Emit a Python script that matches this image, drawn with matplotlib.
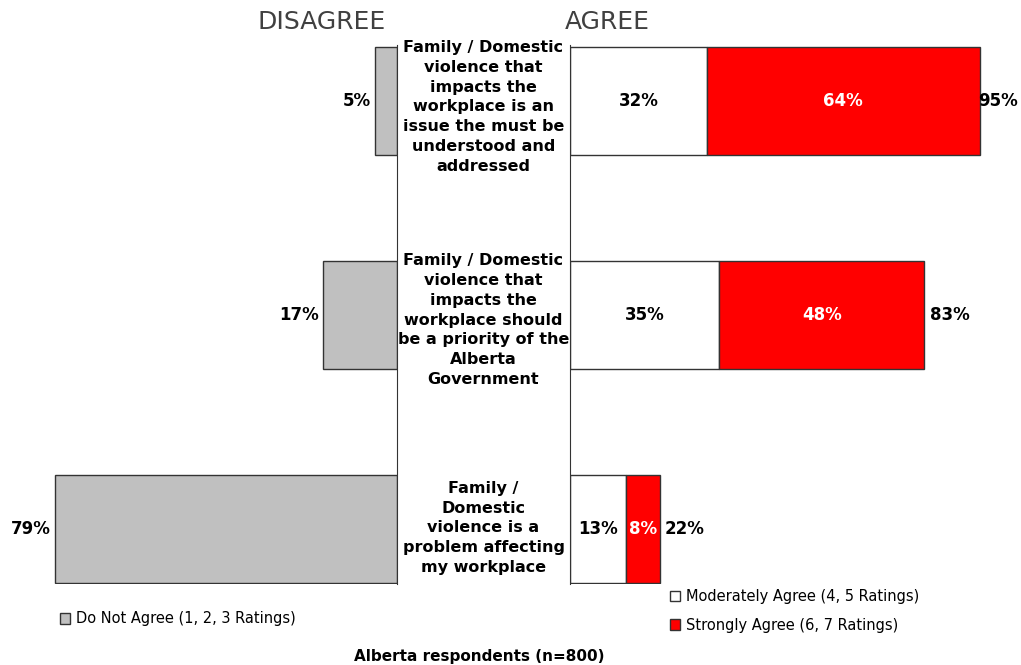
import matplotlib.pyplot as plt
from matplotlib.patches import Patch

statements = [
    "Family / Domestic\nviolence that\nimpacts the\nworkplace is an\nissue the must be\nunderstood and\naddressed",
    "Family / Domestic\nviolence that\nimpacts the\nworkplace should\nbe a priority of the\nAlberta\nGovernment",
    "Family /\nDomestic\nviolence is a\nproblem affecting\nmy workplace",
]
do_not_agree = [5, 17, 79]
moderately_agree = [32, 35, 13]
strongly_agree = [64, 48, 8]
total_agree = [95, 83, 22]

GRAY = "#C0C0C0"
RED = "#FF0000"
EDGE = "#333333"

W, H = 1021, 665
fig = plt.figure(figsize=(W / 100, H / 100), dpi=100)

top_px, bot_px = 45, 584
ax_l = fig.add_axes([20 / W, 1 - bot_px / H, (397 - 20) / W, (bot_px - top_px) / H])
ax_r = fig.add_axes([570 / W, 1 - bot_px / H, (1000 - 570) / W, (bot_px - top_px) / H])

ypos = list(range(len(statements)))
bh = 0.505
ylim = (2.257, -0.262)

# left side: disagree
ax_l.barh(ypos, do_not_agree, height=bh, color=GRAY, edgecolor=EDGE, linewidth=1)
ax_l.set_xlim(87, 0)
ax_l.set_ylim(*ylim)
for y, v in zip(ypos, do_not_agree):
    ax_l.text(v + 1, y, f"{v}%", ha="right", va="center", fontsize=12,
              fontweight="bold", color="black")

# right side: agree
ax_r.barh(ypos, moderately_agree, height=bh, color="white", edgecolor=EDGE, linewidth=1)
ax_r.barh(ypos, strongly_agree, left=moderately_agree, height=bh, color=RED,
          edgecolor=EDGE, linewidth=1)
ax_r.set_xlim(0, 100.7)
ax_r.set_ylim(*ylim)
for y, m, s, t in zip(ypos, moderately_agree, strongly_agree, total_agree):
    ax_r.text(m / 2, y, f"{m}%", ha="center", va="center", fontsize=12,
              fontweight="bold", color="black")
    ax_r.text(m + s / 2, y, f"{s}%", ha="center", va="center", fontsize=12,
              fontweight="bold", color="white")
    # total sits just past the bar, pulled in so it stays inside the figure
    ax_r.text(min(m + s + 1.2, 95.5), y, f"{t}%", ha="left", va="center", fontsize=12,
              fontweight="bold", color="black", clip_on=False)

for ax in (ax_l, ax_r):
    ax.set_xticks([])
    ax.set_yticks([])
    for side in ("top", "bottom", "left", "right"):
        ax.spines[side].set_visible(False)
ax_l.spines["right"].set_visible(True)
ax_l.spines["right"].set_color(EDGE)
ax_r.spines["left"].set_visible(True)
ax_r.spines["left"].set_color(EDGE)

# statement labels between the two panels
mid_x = (397 + 570) / 2 / W
row_px = [107, 320, 528]
for txt, py in zip(statements, row_px):
    fig.text(mid_x, 1 - py / H, txt, ha="center", va="center", fontsize=11.5,
             fontweight="bold", linespacing=1.4)

fig.text(322 / W, 1 - 22 / H, "DISAGREE", ha="center", va="center",
         fontsize=18, color="#404040")
fig.text(607 / W, 1 - 22 / H, "AGREE", ha="center", va="center",
         fontsize=18, color="#404040")

fig.legend(handles=[Patch(facecolor=GRAY, edgecolor=EDGE, label="Do Not Agree (1, 2, 3 Ratings)")],
           loc="center left", bbox_to_anchor=(47 / W, 1 - 619 / H), frameon=False,
           fontsize=10.5, handlelength=0.7, handleheight=0.7, handletextpad=0.4)
fig.legend(handles=[Patch(facecolor="white", edgecolor=EDGE, label="Moderately Agree (4, 5 Ratings)"),
                    Patch(facecolor=RED, edgecolor=EDGE, label="Strongly Agree (6, 7 Ratings)")],
           loc="center left", bbox_to_anchor=(657 / W, 1 - 611 / H), frameon=False,
           fontsize=10.5, handlelength=0.7, handleheight=0.7, handletextpad=0.4,
           labelspacing=0.9)

fig.text(479 / W, 1 - 657 / H, "Alberta respondents (n=800)", ha="center", va="center",
         fontsize=11, fontweight="bold")

fig.savefig("out.png", dpi=100, facecolor="white")
